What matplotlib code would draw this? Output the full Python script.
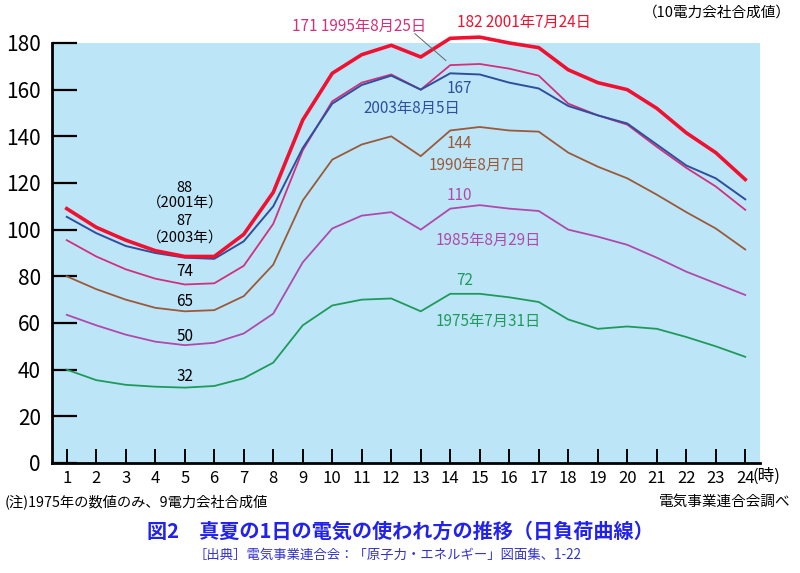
import matplotlib
matplotlib.use('Agg')
import matplotlib.pyplot as plt

plt.rcParams['font.family'] = ['Noto Sans CJK JP', 'DejaVu Sans']

hours = list(range(1, 25))
y2001 = [109, 101, 95.5, 91, 88.5, 88.5, 98, 116, 147, 167, 175, 179, 174, 182, 182.5, 180, 178, 168.5, 163, 160, 152, 141.5, 133, 121.5]
y2003 = [105.5, 98.5, 93, 90, 88, 87.5, 95, 110, 135, 154, 162, 166, 160, 167, 166.5, 163, 160.5, 153, 149, 145.5, 136.5, 127.5, 122, 113]
y1995 = [95.5, 88.5, 83, 79, 76.5, 77, 84.5, 102.5, 134, 155, 163, 166.5, 160, 170.5, 171, 169, 166, 154, 149, 145, 135.5, 126.5, 118.5, 108.5]
y1990 = [80, 74.5, 70, 66.5, 65, 65.5, 71.5, 85, 112.5, 130, 136.5, 140, 131.5, 142.5, 144, 142.5, 142, 133, 127, 122, 115, 107.5, 100.5, 91.5]
y1985 = [63.5, 59, 55, 52, 50.5, 51.5, 55.5, 64, 86, 100.5, 106, 107.5, 100, 109, 110.5, 109, 108, 100, 97, 93.5, 88, 82, 77, 72]
y1975 = [40, 35.5, 33.5, 32.7, 32.3, 33, 36.3, 43, 59, 67.5, 70, 70.5, 65, 72.5, 72.5, 71, 69, 61.5, 57.5, 58.5, 57.5, 54, 50, 45.5]

fig = plt.figure(figsize=(8, 5.73), dpi=100)
ax = fig.add_axes([0.065, 0.192, 0.885, 0.733])
ax.set_facecolor('#bde5f8')

ax.plot(hours, y1975, color='#1f9a5c', lw=1.3)
ax.plot(hours, y1985, color='#b04aaa', lw=1.3)
ax.plot(hours, y1990, color='#9a5a3a', lw=1.3)
ax.plot(hours, y1995, color='#d1307c', lw=1.3)
ax.plot(hours, y2003, color='#2f4f9c', lw=1.4)
ax.plot(hours, y2001, color='#f01030', lw=2.6, clip_on=False)

ax.set_xlim(0.5, 24.5)
ax.set_ylim(0, 180)
ax.set_xticks(hours)
ax.set_yticks(range(0, 181, 20))
ax.tick_params(axis='y', direction='in', length=18, width=1.6, labelsize=15, pad=8)
ax.tick_params(axis='x', direction='in', length=10, width=1.4, labelsize=12, pad=5)
for s in ['top', 'right']:
    ax.spines[s].set_visible(False)
for s in ['left', 'bottom']:
    ax.spines[s].set_linewidth(2)

# labels for the lines
fs = 11
ax.text(5, 118, '88', ha='center', va='center', fontsize=10.5)
ax.text(5, 111.5, '（2001年）', ha='center', va='center', fontsize=10.5)
ax.text(5, 103.5, '87', ha='center', va='center', fontsize=10.5)
ax.text(5, 96.5, '（2003年）', ha='center', va='center', fontsize=10.5)
ax.text(5, 82, '74', ha='center', va='center', fontsize=fs)
ax.text(5, 69, '65', ha='center', va='center', fontsize=fs)
ax.text(5, 54, '50', ha='center', va='center', fontsize=fs)
ax.text(5, 37, '32', ha='center', va='center', fontsize=fs)

ax.text(14.3, 160.5, '167', ha='center', va='center', fontsize=fs, color='#2f4f9c')
ax.text(12.7, 152, '2003年8月5日', ha='center', va='center', fontsize=fs, color='#2f4f9c')
ax.text(14.3, 137, '144', ha='center', va='center', fontsize=fs, color='#9a5a3a')
ax.text(14.9, 127.5, '1990年8月7日', ha='center', va='center', fontsize=fs, color='#9a5a3a')
ax.text(14.3, 114.5, '110', ha='center', va='center', fontsize=fs, color='#b04aaa')
ax.text(15.3, 95.5, '1985年8月29日', ha='center', va='center', fontsize=fs, color='#b04aaa')
ax.text(14.5, 78, '72', ha='center', va='center', fontsize=fs, color='#1f9a5c')
ax.text(15.3, 60.5, '1975年7月31日', ha='center', va='center', fontsize=fs, color='#1f9a5c')

ax.text(10.9, 187, '171 1995年8月25日', ha='center', va='center', fontsize=fs,
        color='#d1307c', clip_on=False)
ax.text(16.5, 189, '182 2001年7月24日', ha='center', va='center', fontsize=fs,
        color='#f01030', clip_on=False)
ax.plot([12.8, 13.85], [184, 172.5], color='#666666', lw=0.7, clip_on=False)
ax.text(24.25, -5.5, '(時)', ha='left', va='center', fontsize=12, clip_on=False)

fig.text(0.988, 0.978, '（10電力会社合成値）', ha='right', va='center', fontsize=10.5)
fig.text(0.006, 0.124, '(注)1975年の数値のみ、9電力会社合成値', ha='left', va='center', fontsize=10.3)
fig.text(0.988, 0.124, '電気事業連合会調べ', ha='right', va='center', fontsize=10.5)
fig.text(0.5, 0.073, '図2　真夏の1日の電気の使われ方の推移（日負荷曲線）', ha='center', va='center',
         fontsize=14.5, color='#2222ee', fontweight='bold')
fig.text(0.484, 0.031, '［出典］電気事業連合会：「原子力・エネルギー」図面集、1-22', ha='center', va='center',
         fontsize=9.6, color='#3333cc')

fig.savefig('out.png', dpi=100)
